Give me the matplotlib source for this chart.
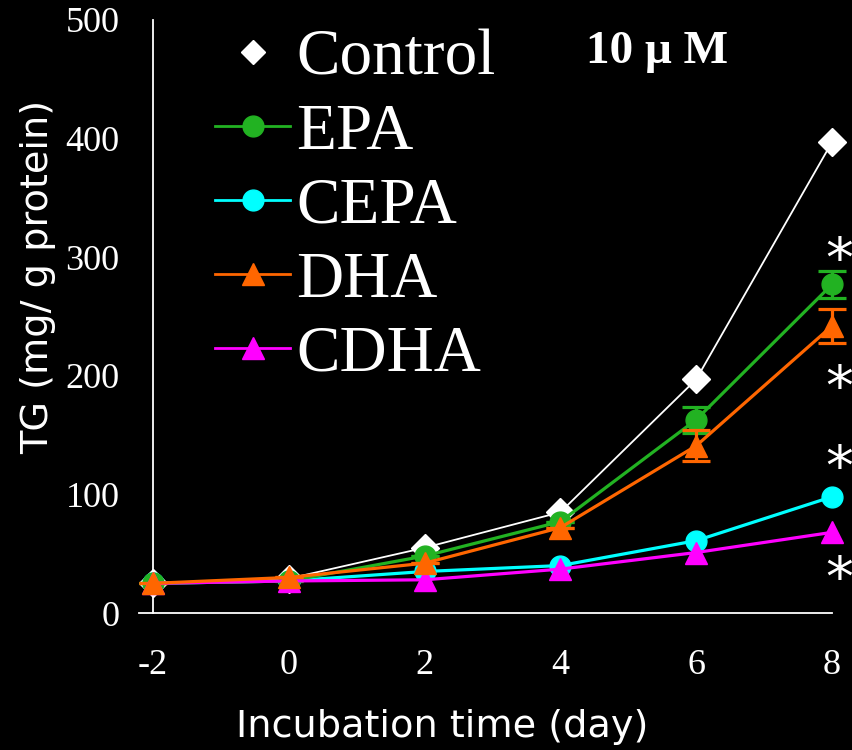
import numpy as np
import matplotlib
matplotlib.use("Agg")
import matplotlib.pyplot as plt
from matplotlib.lines import Line2D

# data
days = [-2, 0, 2, 4, 6, 8]
control = [25, 29, 55, 85, 197, 397]
epa = [25, 27, 48, 77, 163, 277]
epa_err = [0, 0, 0, 0, 11, 11]
cepa = [25, 27, 35, 40, 61, 98]
dha = [25, 30, 42, 72, 141, 242]
dha_err = [0, 0, 0, 0, 13, 14]
cdha = [25, 27, 28, 37, 51, 68]
star_y = [304, 196, 129, 35]

labels = ["Control", "EPA", "CEPA", "DHA", "CDHA"]
colors = ["white", "#22B222", "#00FFFF", "#FF6600", "#FF00FF"]

serif = "Liberation Serif"
plt.rcParams["font.family"] = serif
plt.rcParams["axes.unicode_minus"] = False

fig = plt.figure(figsize=(8.53, 7.5), dpi=100, facecolor="black")
ax = fig.add_axes([139.4 / 853, 1 - 613 / 750, (832 - 139.4) / 853, (613 - 20) / 750])
ax.set_facecolor("black")

ax.plot(days, control, color=colors[0], lw=1.3, marker="D", ms=14, mec="white",
        mfc="white", clip_on=False, zorder=3)
ax.errorbar(days, epa, yerr=epa_err, color=colors[1], lw=2.3, marker="o", ms=15,
            capsize=10, capthick=2.3, elinewidth=2.3, clip_on=False, zorder=4)
ax.errorbar(days, dha, yerr=dha_err, color=colors[3], lw=2.3, marker="^", ms=16,
            capsize=10, capthick=2.3, elinewidth=2.3, clip_on=False, zorder=5)
ax.plot(days, cepa, color=colors[2], lw=2.3, marker="o", ms=15, clip_on=False, zorder=4)
ax.plot(days, cdha, color=colors[4], lw=2.3, marker="^", ms=16, clip_on=False, zorder=5)

# asterisks: baseline sits below the glyph's ink, so shift down
for y in star_y:
    ax.text(8.1, y - 21, "*", color="white", fontsize=40, fontfamily="DejaVu Sans",
            ha="center", va="baseline", clip_on=False)

ax.set_xlim(-2.2, 8)
ax.set_ylim(0, 500)
ax.set_xticks(days)
ax.set_yticks(range(0, 501, 100))
ax.tick_params(axis="x", length=0, pad=26, colors="white", labelsize=26)
ax.tick_params(axis="y", length=0, pad=24, colors="white", labelsize=26)

ax.spines["top"].set_visible(False)
ax.spines["right"].set_visible(False)
ax.spines["left"].set_position(("data", -2))
for s in ["left", "bottom"]:
    ax.spines[s].set_color("white")
    ax.spines[s].set_linewidth(1.3)

fig.text(442 / 853, 1 - 727 / 750, "Incubation time (day)", color="white",
         fontsize=27.5, fontfamily="DejaVu Sans", ha="center", va="center")
fig.text(38 / 853, 1 - 277 / 750, "TG (mg/ g protein)", color="white",
         fontsize=27.5, fontfamily="DejaVu Sans", ha="center", va="center", rotation=90)

fig.text(657 / 853, 1 - 52 / 750, "10 \u03bc M", color="white", fontsize=34,
         fontfamily=serif, fontweight="bold", ha="center", va="center")

handles = [Line2D([], [], ls="none", marker="D", ms=12, color=colors[0]),
           Line2D([], [], lw=2, marker="o", ms=15, color=colors[1]),
           Line2D([], [], lw=2, marker="o", ms=15, color=colors[2]),
           Line2D([], [], lw=2, marker="^", ms=16, color=colors[3]),
           Line2D([], [], lw=2, marker="^", ms=16, color=colors[4])]
leg = ax.legend(handles, labels, loc="upper left", bbox_to_anchor=(215 / 853, 1 - 29 / 750),
                bbox_transform=fig.transFigure, frameon=False,
                handlelength=1.15, handletextpad=0.1, labelspacing=0.22, borderpad=0,
                borderaxespad=0, prop={"family": serif, "size": 47})
for t in leg.get_texts():
    t.set_color("white")

fig.savefig("out.png", dpi=100, facecolor="black")
